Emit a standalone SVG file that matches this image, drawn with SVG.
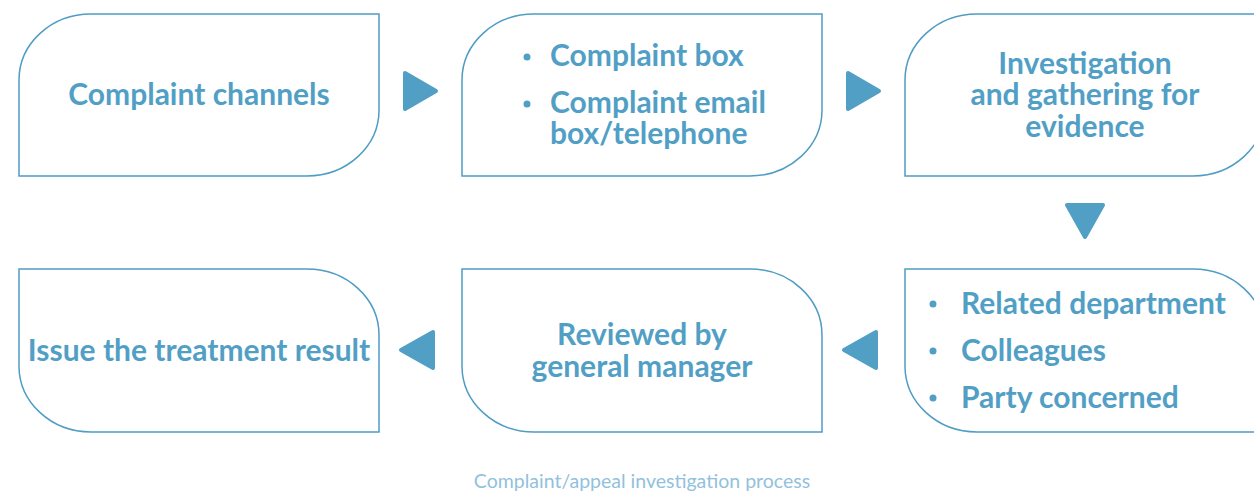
<svg xmlns="http://www.w3.org/2000/svg" width="1254" height="495" viewBox="0 0 1254 495">
<style>
.box{fill:#fff;stroke:#4f9cc4;stroke-width:1.5}
.t{font-family:Lato,"Liberation Sans",sans-serif;font-weight:700;font-size:30px;fill:#529fc6}
.c{text-anchor:middle}
.arr{fill:#529fc6;stroke:#529fc6;stroke-width:4;stroke-linejoin:round}
.cap{font-family:Lato,"Liberation Sans",sans-serif;font-weight:400;font-size:19.5px;fill:#92c1dc;text-anchor:middle}
</style>
<rect width="1254" height="495" fill="#fff"/>
<g id="n1">
<path class="box" d="M19,176 L19,80 A72,66 0 0 1 91,14 L379,14 L379,110 A72,66 0 0 1 307,176 Z"/>
<text class="t c" x="199" y="105">Complaint channels</text>
</g>
<g id="n2">
<path class="box" d="M462,176 L462,80 A72,66 0 0 1 534,14 L822,14 L822,110 A72,66 0 0 1 750,176 Z"/>
<circle cx="527" cy="57" r="3.5" fill="#529fc6"/>
<circle cx="527" cy="104" r="3.5" fill="#529fc6"/>
<text class="t" x="550" y="66">Complaint box</text>
<text class="t" x="550" y="113">Complaint email</text>
<text class="t" x="550" y="144">box/telephone</text>
</g>
<g id="n3">
<path class="box" d="M905,176 L905,80 A72,66 0 0 1 977,14 L1265,14 L1265,110 A72,66 0 0 1 1193,176 Z"/>
<text class="t c" x="1085" y="74">Investigation</text>
<text class="t c" x="1085" y="105">and gathering for</text>
<text class="t c" x="1085" y="137">evidence</text>
</g>
<g id="n4">
<path class="box" d="M905,269 L1193,269 A72,66 0 0 1 1265,335 L1265,432 L977,432 A72,66 0 0 1 905,366 Z"/>
<circle cx="933" cy="304" r="3.5" fill="#529fc6"/>
<circle cx="933" cy="351" r="3.5" fill="#529fc6"/>
<circle cx="933" cy="398" r="3.5" fill="#529fc6"/>
<text class="t" x="961" y="314">Related department</text>
<text class="t" x="961" y="361">Colleagues</text>
<text class="t" x="961" y="408">Party concerned</text>
</g>
<g id="n5">
<path class="box" d="M462,269 L750,269 A72,66 0 0 1 822,335 L822,432 L534,432 A72,66 0 0 1 462,366 Z"/>
<text class="t c" x="642" y="345">Reviewed by</text>
<text class="t c" x="642" y="377">general manager</text>
</g>
<g id="n6">
<path class="box" d="M19,269 L307,269 A72,66 0 0 1 379,335 L379,432 L91,432 A72,66 0 0 1 19,366 Z"/>
<text class="t c" x="199" y="361">Issue the treatment result</text>
</g>
<g id="connectors">
<path class="arr" d="M405,73 L436,91 L405,109 Z"/>
<path class="arr" d="M848,73 L879,91 L848,109 Z"/>
<path class="arr" d="M1067,205 L1103,205 L1085,237 Z"/>
<path class="arr" d="M876,332 L876,368 L844,350 Z"/>
<path class="arr" d="M433,332 L433,368 L401,350 Z"/>
</g>
<text class="cap" x="642" y="488">Complaint/appeal investigation process</text>
</svg>
